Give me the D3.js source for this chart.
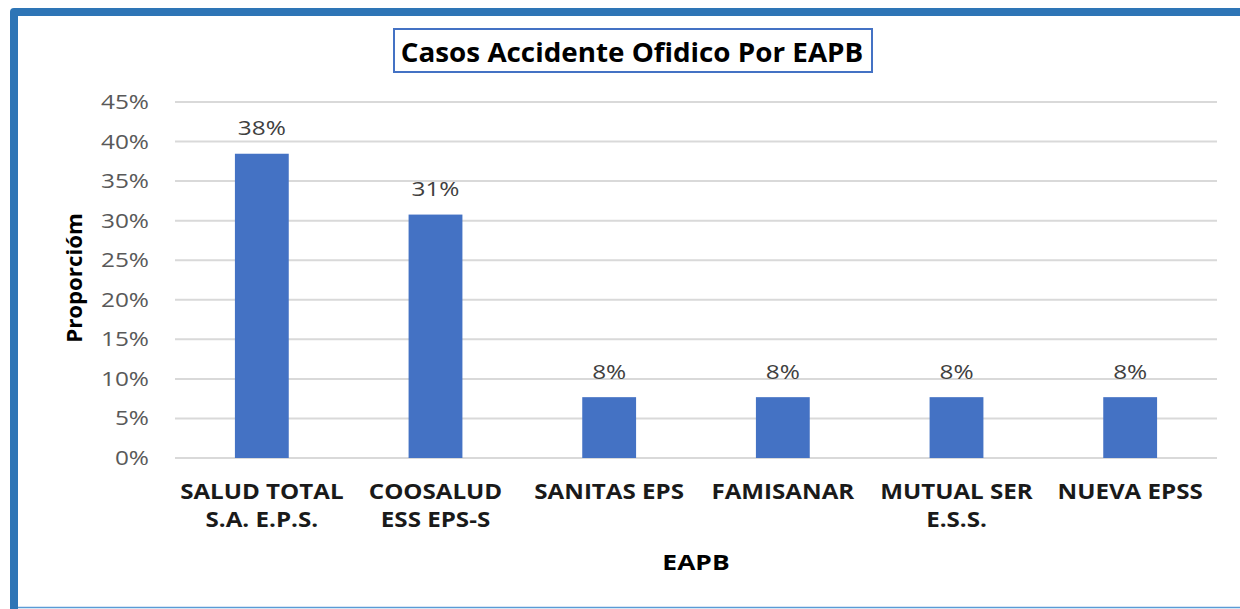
<!DOCTYPE html>
<html>
<head>
<meta charset="utf-8">
<script src="https://cdn.jsdelivr.net/npm/d3@7"></script>
<style>
  body { margin: 0; background: #fff; }
  svg { display: block; }
  text { font-family: "Open Sans", sans-serif; }
</style>
</head>
<body>
<svg id="chart" width="1240" height="609"></svg>
<script>
// chart data
var categories = ["SALUD TOTAL\nS.A. E.P.S.", "COOSALUD\nESS EPS-S", "SANITAS EPS", "FAMISANAR", "MUTUAL SER\nE.S.S.", "NUEVA EPSS"]
var proportions = [0.3846, 0.3077, 0.0769, 0.0769, 0.0769, 0.0769]
var valueLabels = ["38%", "31%", "8%", "8%", "8%", "8%"]
var yTicks = [0, 0.05, 0.10, 0.15, 0.20, 0.25, 0.30, 0.35, 0.40, 0.45]

var svg = d3.select("#chart")

// outer frame: thick blue left + top edge, thin line at the bottom
svg.append("path")
  .attr("d", "M14,609 L14,12 L1240,12")
  .attr("fill", "none")
  .attr("stroke", "#2e75b6")
  .attr("stroke-width", 8)
  .attr("stroke-linejoin", "round")
svg.append("line")
  .attr("x1", 18).attr("x2", 1240)
  .attr("y1", 607.5).attr("y2", 607.5)
  .attr("stroke", "#5b9bd5")
  .attr("stroke-width", 1.5)

// text that is stretched horizontally like the original picture
function stext(parent, x, y, sx, txt) {
  return parent.append("text")
    .attr("transform", "translate(" + x + "," + y + ") scale(" + sx + ",1)")
    .text(txt)
}

var x = d3.scaleBand()
  .domain(d3.range(categories.length))
  .range([175, 1217])
  .paddingInner(0.69)
  .paddingOuter(0.345)

var y = d3.scaleLinear()
  .domain([0, 0.45])
  .range([458, 102])

// gridlines
svg.append("g")
  .selectAll("line")
  .data(yTicks)
  .join("line")
  .attr("x1", 175).attr("x2", 1217)
  .attr("y1", function(d) { return y(d) }).attr("y2", function(d) { return y(d) })
  .attr("stroke", "#d9d9d9")
  .attr("stroke-width", 2)

// y tick labels
var yLab = svg.append("g")
  .attr("font-size", 19.5)
  .attr("fill", "#595959")
  .attr("text-anchor", "end")
yTicks.forEach(function(t) {
  stext(yLab, 149, y(t) + 7, 1.25, d3.format(".0%")(t))
})

// bars
svg.append("g")
  .selectAll("rect")
  .data(proportions)
  .join("rect")
  .attr("x", function(d, i) { return x(i) })
  .attr("width", x.bandwidth())
  .attr("y", function(d) { return y(d) })
  .attr("height", function(d) { return y(0) - y(d) })
  .attr("fill", "#4472c4")

// value labels
var vLab = svg.append("g")
  .attr("font-size", 19.5)
  .attr("fill", "#404040")
  .attr("text-anchor", "middle")
proportions.forEach(function(v, i) {
  stext(vLab, x(i) + x.bandwidth() / 2, y(v) - 18.5, 1.25, valueLabels[i])
})

// category labels
var cLab = svg.append("g")
  .attr("font-size", 21)
  .attr("font-weight", "bold")
  .attr("fill", "#1a1a1a")
  .attr("text-anchor", "middle")
categories.forEach(function(c, i) {
  c.split("\n").forEach(function(line, j) {
    stext(cLab, x(i) + x.bandwidth() / 2, 498.5 + j * 28.3, 1.15, line)
  })
})

// axis titles
svg.append("text")
  .attr("transform", "translate(81.5,278) rotate(-90) scale(1.06,1)")
  .attr("text-anchor", "middle")
  .attr("font-size", 21)
  .attr("font-weight", "bold")
  .attr("fill", "#000")
  .text("Proporcióm")

stext(svg, 696, 569.5, 1.2, "EAPB")
  .attr("text-anchor", "middle")
  .attr("font-size", 22)
  .attr("font-weight", "bold")
  .attr("fill", "#000")

// chart title in its box
svg.append("rect")
  .attr("x", 394).attr("y", 29)
  .attr("width", 478).attr("height", 43)
  .attr("fill", "#fff")
  .attr("stroke", "#4472c4")
  .attr("stroke-width", 2)
stext(svg, 632, 61.5, 1.07, "Casos Accidente Ofidico Por EAPB")
  .attr("text-anchor", "middle")
  .attr("font-size", 26)
  .attr("font-weight", "bold")
  .attr("fill", "#000")
</script>
</body>
</html>
